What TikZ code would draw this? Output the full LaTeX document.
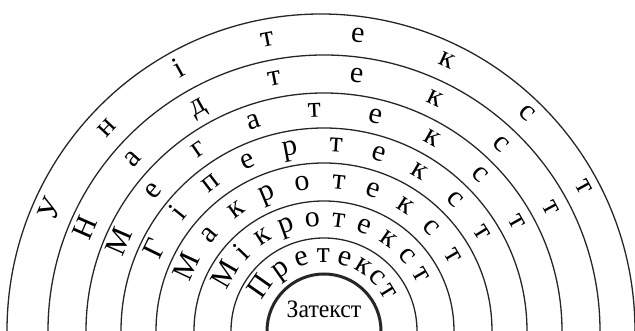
\documentclass[tikz,border=0pt]{standalone}
\usepackage{fontspec}
\setmainfont{Liberation Serif}
\newcommand\ringfont{\fontsize{30}{30}\selectfont}
\newcommand\corefont{\fontsize{25}{25}\selectfont}
\newcommand\ringtext[3]{%
  \pgfmathsetmacro\rr{#2-6.5}%
  \foreach \l/\a [count=\i] in {#3}
    \node[letter, rotate=\a-90] (#1\i) at ([shift={(\a:\rr)}]O) {\l};%
}
\begin{document}
\begin{tikzpicture}[x=1pt,y=1pt,
  ring/.style={line width=1.3pt, black!85},
  core/.style={line width=3pt, black!85},
  letter/.style={font=\ringfont, inner sep=0pt, anchor=base, text=black}]
\useasboundingbox (0,0) rectangle (635,331);
\coordinate (O) at (324,0);
% rings
\draw[ring] (7,0) arc (180:0:314 and 317);
\foreach \R in {276,238,203,168,130,93}
  \draw[ring] ([shift={(0:\R)}]O) arc (0:180:\R);
\draw[core] ([shift={(0:57)}]O) arc (0:180:57);
% center text
\node[font=\corefont, inner sep=0pt, text=black, xscale=0.95] (zatekst) at (324,22) {Затекст};
% ring texts
\ringtext{u}{297}{У/156,н/137,і/119,т/101,е/83.5,к/65.5,с/47,т/29}
\ringtext{n}{257}{Н/156.5,а/138,д/119.5,т/101,е/82.7,к/64.5,с/46.5,т/28.5}
\ringtext{m}{220.5}{М/156.5,е/140.5,г/124.6,а/108.7,т/92.5,е/76.6,к/60.7,с/45,т/29.5}
\ringtext{g}{185.5}{Г/154,і/141,п/127.5,е/114.2,р/100.6,т/86.3,е/72.8,к/59.2,с/45.3,т/32}
\ringtext{a}{149}{М/155,а/140,к/126,р/112.7,о/98.5,т/84.3,е/70.9,к/57,с/44,т/30.5}
\ringtext{i}{111.5}{М/150,і/136,к/123,р/110,о/96,т/82.5,е/69,к/55,с/42,т/30}
\ringtext{p}{75}{П/145,р/125,е/107.5,т/90.5,е/74,к/58.5,с/45,т/31.5}
\end{tikzpicture}
\end{document}
